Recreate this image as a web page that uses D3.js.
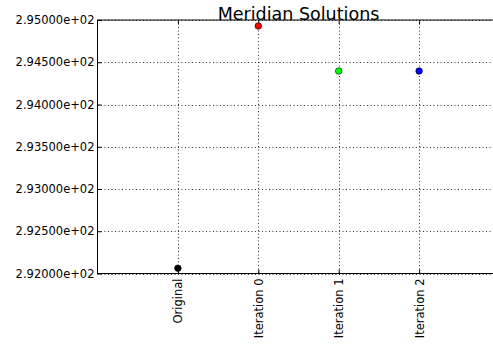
<!DOCTYPE html>
<html>
<head>
<meta charset="utf-8">
<script src="https://cdn.jsdelivr.net/npm/d3@7"></script>
<style>
  html, body { margin: 0; padding: 0; background: #fff; }
  svg { display: block; font-family: "DejaVu Sans", sans-serif; }
</style>
</head>
<body>
<svg id="chart" width="493" height="348"></svg>
<script>
// Solution values per stage
const categories = ["Original", "Iteration 0", "Iteration 1", "Iteration 2"];
const values = [292.063, 294.929, 294.396, 294.396];
const pointColors = ["#000000", "#ff0000", "#00ff00", "#0000ff"];
const yTicks = [292.0, 292.5, 293.0, 293.5, 294.0, 294.5, 295.0];
const title = "Meridian Solutions";

const svg = d3.select("#chart");
const plotLeft = 97.5, plotTop = 20, plotBottom = 273.5, plotRight = 499.5;

// Categories sit at positions 1..4 on a 0..5 axis
const x = d3.scaleLinear().domain([0, 5]).range([plotLeft, plotRight]);
const y = d3.scaleLinear().domain([292, 295]).range([plotBottom, plotTop]);

const grid = svg.append("g");
// Horizontal grid
grid.selectAll("line.h").data(yTicks).join("line")
  .attr("x1", plotLeft).attr("x2", plotRight)
  .attr("y1", d => Math.round(y(d)) + 0.5).attr("y2", d => Math.round(y(d)) + 0.5)
  .attr("stroke", "#000").attr("stroke-width", 0.8)
  .attr("stroke-dasharray", "1,2.5");
// Vertical grid
grid.selectAll("line.v").data(categories).join("line")
  .attr("x1", (d, i) => Math.round(x(i + 1)) + 0.5).attr("x2", (d, i) => Math.round(x(i + 1)) + 0.5)
  .attr("y1", plotTop).attr("y2", plotBottom)
  .attr("stroke", "#000").attr("stroke-width", 0.8)
  .attr("stroke-dasharray", "1,2.5");

// Axes with inward ticks
const yAxis = d3.axisLeft(y).tickValues(yTicks)
  .tickFormat(d => d3.format(".5e")(d).replace(/e([+-])(\d)$/, "e$10$2"))
  .tickSize(-4).tickPadding(6);
const gy = svg.append("g").attr("transform", `translate(${plotLeft},0)`).call(yAxis);
gy.select(".domain").remove();
gy.selectAll("text").attr("font-size", "11.5px").attr("fill", "#000")
  .attr("font-family", "DejaVu Sans, sans-serif").attr("x", -3);

// Right side ticks
svg.append("g").attr("transform", `translate(${plotRight},0)`)
  .call(d3.axisRight(y).tickValues(yTicks).tickSize(-4).tickFormat(""))
  .select(".domain").remove();

const xAxis = d3.axisBottom(x).tickValues([1, 2, 3, 4])
  .tickFormat(d => categories[d - 1]).tickSize(-4);
const gx = svg.append("g").attr("transform", `translate(0,${plotBottom})`).call(xAxis);
gx.select(".domain").remove();
gx.selectAll("text")
  .attr("font-size", "11.5px").attr("fill", "#000")
  .attr("font-family", "DejaVu Sans, sans-serif")
  .attr("transform", "rotate(-90)")
  .attr("x", -5).attr("y", 0).attr("dy", "0.35em")
  .attr("text-anchor", "end");

// Top side ticks
svg.append("g").attr("transform", `translate(0,${plotTop})`)
  .call(d3.axisTop(x).tickValues([1, 2, 3, 4]).tickSize(-4).tickFormat(""))
  .select(".domain").remove();

// Frame
svg.append("rect").attr("x", plotLeft).attr("y", plotTop)
  .attr("width", plotRight - plotLeft).attr("height", plotBottom - plotTop)
  .attr("fill", "none").attr("stroke", "#000").attr("stroke-width", 1);

// Points
svg.append("g").selectAll("circle").data(values).join("circle")
  .attr("cx", (d, i) => x(i + 1))
  .attr("cy", d => y(d))
  .attr("r", 3.3)
  .attr("fill", (d, i) => pointColors[i])
  .attr("stroke", "#000").attr("stroke-width", 0.6);

// Title
svg.append("text").attr("x", (plotLeft + plotRight) / 2).attr("y", 20)
  .attr("text-anchor", "middle").attr("font-size", "17.5px")
  .attr("font-family", "DejaVu Sans, sans-serif")
  .text(title);
</script>
</body>
</html>
